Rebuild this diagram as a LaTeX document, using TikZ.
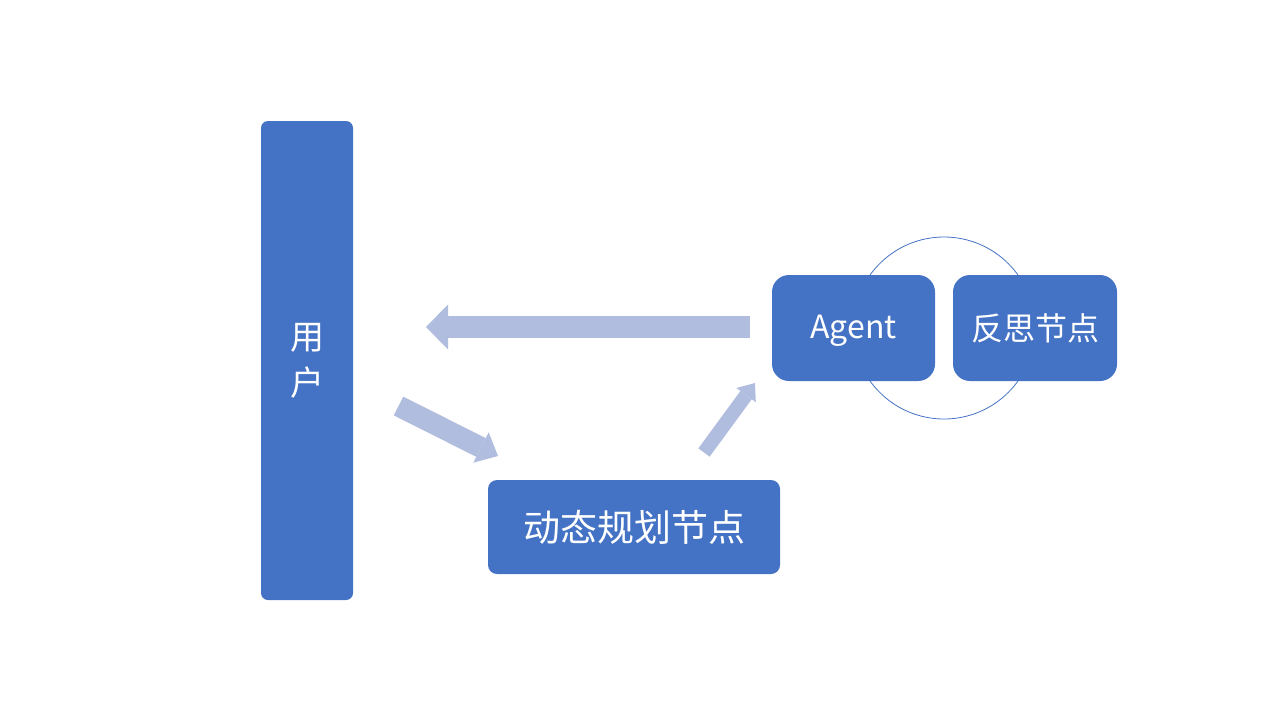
\documentclass[tikz,border=0pt]{standalone}
\usepackage{fontspec}
\newfontfamily\cjk{Noto Sans CJK SC}
\usetikzlibrary{arrows.meta}
\definecolor{boxblue}{HTML}{4472C4}
\definecolor{arrowblue}{HTML}{B0BDDF}
\tikzset{
  blockbox/.style={fill=boxblue, text=white, rounded corners=#1, inner sep=0pt, align=center, font=\cjk\fontsize{32}{46}\selectfont},
  blockbox/.default=8pt,
  fatarrow/.style n args={3}{draw=arrowblue, line width=#1, -{Triangle[width=#2, length=#3, line width=0pt]}}
}
\begin{document}
\begin{tikzpicture}[x=1pt, y=-1pt]
                \useasboundingbox (0,0) rectangle (1280,720);
                \path (398.5, 406) coordinate (userOut);
                \path (498, 456) coordinate (planIn);
                \path (704, 452.5) coordinate (planOut);
                \path (755, 383) coordinate (agentIn);
                \path (750, 327) coordinate (agentOut);
                \path (426, 327) coordinate (userIn);
                \draw[boxblue, line width=0.8pt] (944, 328) circle (91);
                \node[blockbox=7pt, minimum width=92pt, minimum height=479pt, font=\cjk\fontsize{34}{46}\selectfont] (user) at (307, 360.5) {用\\户};
                \node[blockbox=9pt, minimum width=292pt, minimum height=94pt, font=\cjk\fontsize{37}{44}\selectfont] (plan) at (634, 527) {动态规划节点};
                \node[blockbox=17pt, minimum width=163pt, minimum height=106pt, text depth=2pt] (agent) at (853.5, 328) {Agent};
                \node[blockbox=17pt, minimum width=164pt, minimum height=106pt] (reflect) at (1035, 328) {反思节点};
                \draw[fatarrow={22pt}{45pt}{22pt}] (agentOut) -- (userIn);
                \draw[fatarrow={21pt}{34pt}{19pt}] (userOut) -- (planIn);
                \draw[fatarrow={14pt}{24pt}{15pt}] (planOut) -- (agentIn);
            \end{tikzpicture}
\end{document}
